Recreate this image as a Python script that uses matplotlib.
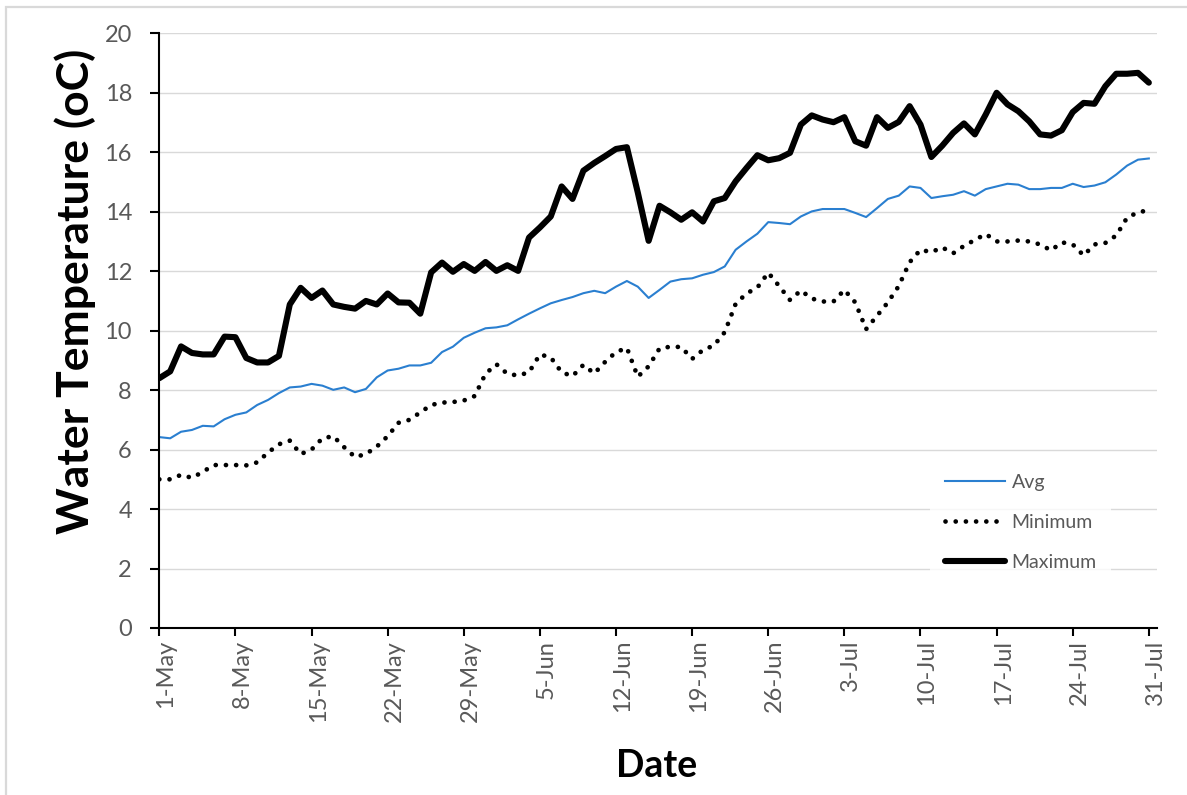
import numpy as np
import pandas as pd
import matplotlib
matplotlib.use("Agg")
import matplotlib.pyplot as plt
import matplotlib.transforms as mtransforms
from matplotlib.patches import Rectangle

# daily water temperature, 1 May - 31 Jul
dates = pd.date_range("2019-05-01", "2019-07-31", freq="D")

temp_avg = [
    6.42, 6.38, 6.60, 6.66, 6.80, 6.78, 7.02, 7.17, 7.25, 7.50, 7.67,
    7.90, 8.09, 8.12, 8.21, 8.15, 8.01, 8.09, 7.93, 8.04, 8.43,
    8.66, 8.72, 8.83, 8.83, 8.92, 9.28, 9.46, 9.76, 9.93, 10.08,
    10.11, 10.18, 10.38, 10.57, 10.75, 10.92, 11.03, 11.13, 11.26, 11.34,
    11.26, 11.48, 11.67, 11.48, 11.10, 11.37, 11.65, 11.73, 11.76, 11.88,
    11.97, 12.16, 12.72, 13.00, 13.26, 13.65, 13.62, 13.58, 13.84, 14.01,
    14.09, 14.09, 14.09, 13.96, 13.82, 14.12, 14.43, 14.54, 14.85, 14.80,
    14.46, 14.52, 14.57, 14.69, 14.54, 14.76, 14.85, 14.94, 14.91, 14.76,
    14.76, 14.80, 14.80, 14.94, 14.83, 14.88, 14.99, 15.25, 15.55, 15.75, 15.79,
]

temp_min = [
    5.00, 5.00, 5.15, 5.05, 5.25, 5.48, 5.48, 5.48, 5.47, 5.57, 5.90,
    6.18, 6.30, 5.85, 6.00, 6.38, 6.45, 6.08, 5.75, 5.85, 6.10,
    6.45, 6.90, 7.00, 7.25, 7.50, 7.58, 7.60, 7.65, 7.80, 8.55,
    8.87, 8.55, 8.49, 8.60, 9.20, 9.10, 8.60, 8.47, 8.85, 8.56,
    8.95, 9.28, 9.42, 8.45, 8.80, 9.40, 9.46, 9.45, 9.05, 9.35,
    9.50, 9.95, 10.90, 11.25, 11.45, 11.95, 11.50, 11.03, 11.35, 11.08,
    10.98, 10.98, 11.37, 10.95, 10.05, 10.50, 10.95, 11.50, 12.30, 12.72,
    12.64, 12.80, 12.60, 12.85, 13.05, 13.25, 13.00, 13.00, 13.03, 13.00,
    12.90, 12.70, 12.97, 12.90, 12.53, 12.90, 12.95, 13.20, 13.80, 13.98, 14.05,
]

temp_max = [
    8.40, 8.63, 9.47, 9.25, 9.20, 9.20, 9.80, 9.78, 9.08, 8.93, 8.93,
    9.15, 10.88, 11.44, 11.10, 11.35, 10.88, 10.80, 10.74, 11.00, 10.88,
    11.25, 10.95, 10.94, 10.57, 11.96, 12.29, 11.98, 12.24, 12.01, 12.31,
    12.01, 12.20, 12.01, 13.13, 13.47, 13.84, 14.85, 14.43, 15.38, 15.64,
    15.87, 16.11, 16.17, 14.65, 13.02, 14.20, 13.98, 13.73, 13.98, 13.67,
    14.35, 14.46, 15.02, 15.47, 15.90, 15.73, 15.80, 15.98, 16.93, 17.24,
    17.10, 17.01, 17.18, 16.37, 16.22, 17.18, 16.82, 17.02, 17.55, 16.93,
    15.84, 16.22, 16.65, 16.97, 16.60, 17.27, 18.00, 17.61, 17.38, 17.04,
    16.60, 16.56, 16.74, 17.35, 17.66, 17.63, 18.22, 18.64, 18.64, 18.67, 18.34,
]

series_labels = ["Avg", "Minimum", "Maximum"]
y_ticks = np.arange(0, 21, 2)
tick_dates = dates[::7]
tick_labels = [f"{d.day}-{d:%b}" for d in tick_dates]

plt.rcParams["font.family"] = ["Lato", "DejaVu Sans"]

W, H = 1187, 795
fig = plt.figure(figsize=(W / 100, H / 100), dpi=100)
ax = fig.add_axes([159.3 / W, 1 - 628 / H, (1157 - 159.3) / W, (628 - 33.3) / H])

grey_text = "#595959"

# outer chart border
fig.patches.append(Rectangle((5.7 / W, -0.1), 1.2, 1 - 7.3 / H + 0.1,
                             transform=fig.transFigure, fill=False,
                             edgecolor="#d9d9d9", linewidth=1.6))

ax.plot(dates, temp_avg, color="#2a7fd0", linewidth=1.5, label=series_labels[0])
ax.plot(dates, temp_min, color="black", linewidth=3.4, linestyle=(0, (0.01, 2.15)),
        dash_capstyle="round", label=series_labels[1])
ax.plot(dates, temp_max, color="black", linewidth=4.4, solid_joinstyle="round",
        solid_capstyle="round", label=series_labels[2])

ax.set_ylim(0, 20)
ax.set_xlim(dates[0], dates[-1] + pd.Timedelta(hours=18))
ax.set_yticks(y_ticks)
ax.set_xticks(tick_dates)
ax.set_xticklabels(tick_labels, rotation=90)

ax.grid(axis="y", color="#d9d9d9", linewidth=1.0)
ax.set_axisbelow(True)
for side in ["top", "right"]:
    ax.spines[side].set_visible(False)
for side in ["left", "bottom"]:
    ax.spines[side].set_linewidth(1.5)
    ax.spines[side].set_color("black")

ax.tick_params(axis="y", direction="out", length=6.2, width=1.5, pad=13.5,
               labelsize=17, labelcolor=grey_text)
ax.tick_params(axis="x", direction="out", length=5.5, width=1.5, pad=3,
               labelsize=17, labelcolor=grey_text)
shift = mtransforms.ScaledTranslation(6.5 / 100, 0, fig.dpi_scale_trans)
for lbl in ax.get_xticklabels():
    lbl.set_transform(lbl.get_transform() + shift)

fig.text(75 / W, 1 - 291 / H, "Water Temperature (oC)", rotation=90,
         ha="center", va="center", fontsize=32, fontweight="bold")
fig.text(657 / W, 1 - 766 / H, "Date", ha="center", va="center",
         fontsize=27, fontweight="bold")

leg = ax.legend(loc="upper left", bbox_to_anchor=(930 / W, 1 - 459 / H),
                bbox_transform=fig.transFigure, fontsize=14, frameon=True,
                fancybox=False, borderpad=0.75, handlelength=3.1,
                handletextpad=0.35, labelspacing=1.2, borderaxespad=0)
leg.get_frame().set_facecolor("white")
leg.get_frame().set_edgecolor("none")
for txt in leg.get_texts():
    txt.set_color(grey_text)

fig.savefig("out.png", dpi=100)
